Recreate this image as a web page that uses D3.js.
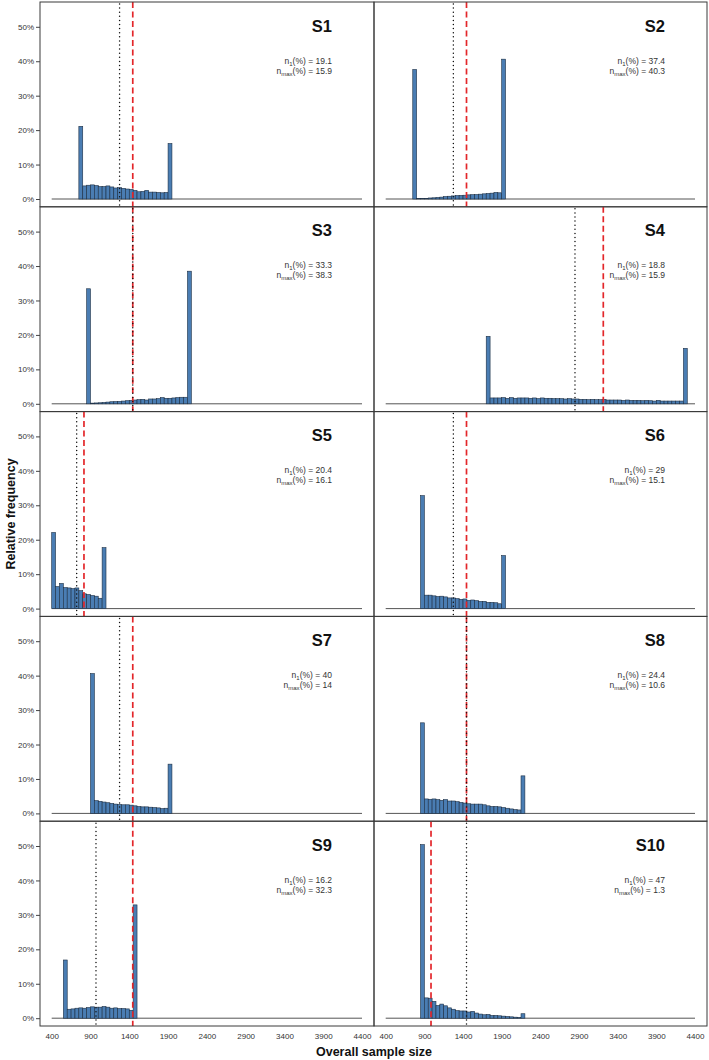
<!DOCTYPE html>
<html>
<head>
<meta charset="utf-8">
<script src="https://cdn.jsdelivr.net/npm/d3@7"></script>
<style>
  html, body { margin: 0; padding: 0; background: #fff; }
  svg { display: block; font-family: "Liberation Sans", Arial, Helvetica, sans-serif; }
</style>
</head>
<body>
<svg id="chart" width="709" height="1060"></svg>
<script>
// ---------------- data ----------------
const panelNames = ["S1","S2","S3","S4","S5","S6","S7","S8","S9","S10"];
const binWidth = 50;
const binStarts = [750, 750, 850, 1700, 400, 850, 900, 850, 550, 850];

const freqS1 = [21.1, 3.8, 4.0, 4.1, 3.9, 3.6, 3.6, 3.8, 3.5, 3.2, 3.3, 3.1, 2.9, 2.8, 2.5, 2.1, 2.2, 2.5, 2.0, 2.0, 1.9, 1.8, 1.9, 16.1];
const freqS2 = [37.6, 0.1, 0.15, 0.2, 0.3, 0.35, 0.45, 0.55, 0.7, 0.8, 0.9, 1.0, 1.05, 1.1, 1.2, 1.25, 1.3, 1.4, 1.5, 1.6, 1.7, 1.9, 1.8, 40.6];
const freqS3 = [33.4, 0.2, 0.25, 0.3, 0.4, 0.5, 0.6, 0.65, 0.7, 0.8, 0.9, 1.0, 1.1, 1.2, 1.3, 1.1, 1.4, 1.4, 1.5, 1.8, 1.6, 1.6, 1.7, 1.8, 1.9, 1.9, 38.5];
const freqS4 = [19.6, 1.7, 1.7, 1.7, 1.8, 1.6, 1.8, 1.6, 1.7, 1.7, 1.7, 1.6, 1.7, 1.5, 1.7, 1.6, 1.6, 1.5, 1.5, 1.5, 1.4, 1.5, 1.4, 1.4, 1.3, 1.3, 1.2, 1.3, 1.2, 1.2, 1.3, 1.1, 1.1, 1.1, 1.1, 1.0, 1.1, 1.0, 1.0, 1.0, 0.9, 1.0, 0.9, 0.8, 1.0, 0.8, 0.8, 0.8, 0.8, 0.8, 0.8, 16.1];
const freqS5 = [22.1, 6.4, 7.3, 6.1, 6.0, 5.8, 6.0, 5.2, 4.3, 4.1, 3.8, 3.6, 3.0, 17.7];
const freqS6 = [32.8, 3.9, 3.9, 3.7, 3.5, 3.6, 3.4, 3.1, 3.1, 2.9, 2.7, 2.8, 2.4, 2.5, 2.3, 2.1, 2.1, 1.8, 1.8, 1.7, 1.4, 15.4];
const freqS7 = [40.6, 3.7, 3.5, 3.3, 3.1, 2.9, 2.7, 2.6, 2.5, 2.5, 2.4, 2.2, 2.0, 1.9, 1.9, 1.8, 1.7, 1.6, 1.4, 1.5, 14.3];
const freqS8 = [26.3, 4.2, 4.1, 4.2, 4.0, 3.8, 4.0, 3.6, 3.6, 3.4, 3.2, 3.0, 2.8, 2.7, 2.7, 2.7, 2.5, 2.2, 2.0, 2.0, 1.9, 1.7, 1.5, 1.3, 1.1, 1.0, 10.9];
const freqS9 = [16.9, 2.6, 2.7, 2.9, 3.0, 2.9, 3.1, 3.3, 3.2, 3.2, 3.4, 3.2, 2.9, 3.0, 2.8, 2.8, 2.7, 2.3, 32.9];
const freqS10 = [50.4, 5.9, 5.8, 4.9, 3.7, 4.1, 3.6, 3.0, 2.6, 2.2, 2.1, 2.1, 1.8, 2.0, 1.5, 1.2, 1.0, 1.1, 0.8, 0.8, 0.7, 0.6, 0.5, 0.4, 0.3, 0.2, 1.3];
const panelFreqs = [freqS1, freqS2, freqS3, freqS4, freqS5, freqS6, freqS7, freqS8, freqS9, freqS10];

const n1Values   = ["19.1", "37.4", "33.3", "18.8", "20.4", "29", "40", "24.4", "16.2", "47"];
const nmaxValues = ["15.9", "40.3", "38.3", "15.9", "16.1", "15.1", "14", "10.6", "32.3", "1.3"];
const dottedLines = [1275, 1275, 1445, 2848, 722, 1275, 1275, 1445, 971, 1445];
const dashedLines = [1445, 1445, 1445, 3214, 816, 1445, 1445, 1445, 1445, 986];

const xTicks = [400, 900, 1400, 1900, 2400, 2900, 3400, 3900, 4400];
const yTicks = [0, 10, 20, 30, 40, 50];

// ---------------- layout ----------------
const svg = d3.select("#chart");
const cols = [[40, 374], [374, 707]];
const top0 = 2, panelH = 204.8, nRows = 5;
const barFill = "#4a7db3", barStroke = "#1d2f44";
const frameColor = "#3a3a3a";

panelNames.forEach((name, i) => {
  const col = i % 2, row = Math.floor(i / 2);
  const [x0, x1] = cols[col];
  const top = top0 + row * panelH;
  const bottom = top + panelH;

  const x = d3.scaleLinear().domain([400, 4400]).range([x0 + 11.7, x1 - 12]);
  const y = d3.scaleLinear().domain([0, 50]).range([top + 197, top + 24.8]);

  const g = svg.append("g");
  const clipId = "clip" + i;
  svg.append("clipPath").attr("id", clipId)
    .append("rect").attr("x", x0).attr("y", top).attr("width", x1 - x0).attr("height", panelH);

  // baseline at 0%
  g.append("line")
    .attr("x1", x(400)).attr("x2", x(4400))
    .attr("y1", y(0)).attr("y2", y(0))
    .attr("stroke", "#555").attr("stroke-width", 1);

  // bars
  const start = binStarts[i];
  const data = panelFreqs[i].map((v, j) => ({ lo: start + j * binWidth, hi: start + (j + 1) * binWidth, v }));
  g.selectAll("rect.bar").data(data).enter().append("rect")
    .attr("class", "bar")
    .attr("x", d => x(d.lo))
    .attr("width", d => x(d.hi) - x(d.lo))
    .attr("y", d => y(d.v))
    .attr("height", d => y(0) - y(d.v))
    .attr("fill", barFill)
    .attr("stroke", barStroke)
    .attr("stroke-width", 0.6);

  // vertical reference lines
  const lg = g.append("g").attr("clip-path", `url(#${clipId})`);
  lg.append("line")
    .attr("x1", x(dashedLines[i])).attr("x2", x(dashedLines[i]))
    .attr("y1", top).attr("y2", bottom)
    .attr("stroke", "#e3262a").attr("stroke-width", 1.7)
    .attr("stroke-dasharray", "6,3.5");
  lg.append("line")
    .attr("x1", x(dottedLines[i])).attr("x2", x(dottedLines[i]))
    .attr("y1", top + 2).attr("y2", bottom)
    .attr("stroke", "#111").attr("stroke-width", 1.5)
    .attr("stroke-linecap", "round")
    .attr("stroke-dasharray", "0,4.1");

  // panel border
  g.append("rect")
    .attr("x", x0).attr("y", top).attr("width", x1 - x0).attr("height", panelH)
    .attr("fill", "none").attr("stroke", frameColor).attr("stroke-width", 1);

  // title
  g.append("text")
    .attr("x", x1 - 42).attr("y", top + 29.5)
    .attr("text-anchor", "end")
    .attr("font-size", 16.5).attr("font-weight", "bold").attr("fill", "#111")
    .text(name);

  // annotations
  const t1 = g.append("text")
    .attr("x", x1 - 42).attr("y", top + 61.5)
    .attr("text-anchor", "end").attr("font-size", 8.5).attr("fill", "#333");
  t1.append("tspan").text("n");
  t1.append("tspan").attr("font-size", 6).attr("dy", 2).text("1");
  t1.append("tspan").attr("dy", -2).text("(%) = " + n1Values[i]);

  const t2 = g.append("text")
    .attr("x", x1 - 42).attr("y", top + 71.5)
    .attr("text-anchor", "end").attr("font-size", 8.5).attr("fill", "#333");
  t2.append("tspan").text("n");
  t2.append("tspan").attr("font-size", 6).attr("dy", 2).text("max");
  t2.append("tspan").attr("dy", -2).text("(%) = " + nmaxValues[i]);

  // y axis (left column)
  if (col === 0) {
    const ax = g.append("g").attr("transform", `translate(${x0},0)`)
      .call(d3.axisLeft(y).tickValues(yTicks).tickFormat(d => d + "%").tickSize(4).tickPadding(2));
    ax.select(".domain").remove();
    ax.selectAll("line").attr("stroke", "#444");
    ax.selectAll("text").attr("font-size", 8).attr("fill", "#333").attr("font-family", "Liberation Sans, Arial, sans-serif");
  }

  // x axis (bottom row)
  if (row === nRows - 1) {
    const ax = g.append("g").attr("transform", `translate(0,${bottom})`)
      .call(d3.axisBottom(x).tickValues(xTicks).tickFormat(d3.format("d")).tickSize(0).tickPadding(7));
    ax.select(".domain").remove();
    ax.selectAll("text").attr("font-size", 8).attr("fill", "#333").attr("font-family", "Liberation Sans, Arial, sans-serif");
  }
});

// axis titles
svg.append("text")
  .attr("transform", "translate(15,514) rotate(-90)")
  .attr("text-anchor", "middle")
  .attr("font-size", 12.5).attr("font-weight", "bold").attr("fill", "#111")
  .text("Relative frequency");

svg.append("text")
  .attr("x", 374).attr("y", 1056)
  .attr("text-anchor", "middle")
  .attr("font-size", 12.5).attr("font-weight", "bold").attr("fill", "#111")
  .text("Overall sample size");
</script>
</body>
</html>
